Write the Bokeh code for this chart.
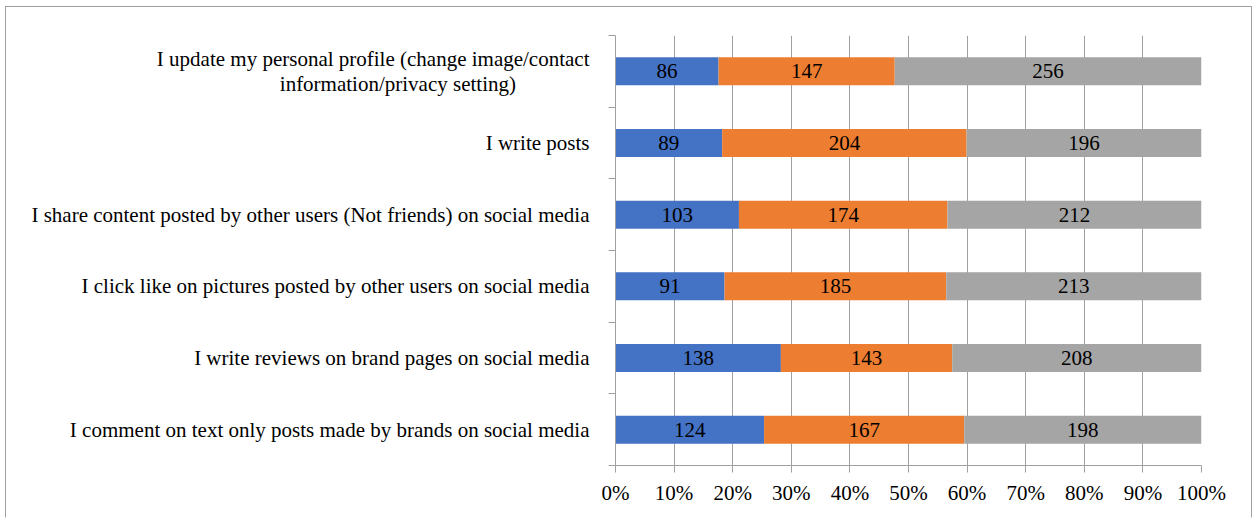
from bokeh.plotting import figure
from bokeh.models import ColumnDataSource, FixedTicker, NumeralTickFormatter, Range1d
from bokeh.core.properties import value
from bokeh.embed import file_html
from bokeh.resources import INLINE

# ---- data (top to bottom as displayed) ----
categories = [
    "I update my personal profile (change image/contact\ninformation/privacy setting)",
    "I write posts",
    "I share content posted by other users (Not friends) on social media",
    "I click like on pictures posted by other users on social media",
    "I write reviews on brand pages on social media",
    "I comment on text only posts made by brands on social media",
]
series1 = [86, 89, 103, 91, 138, 124]
series2 = [147, 204, 174, 185, 143, 167]
series3 = [256, 196, 212, 213, 208, 198]
x_tick_values = [0.0, 0.1, 0.2, 0.3, 0.4, 0.5, 0.6, 0.7, 0.8, 0.9, 1.0]

colors = ["#4472C4", "#ED7D31", "#A5A5A5"]
FONT = "Liberation Serif"
FS = "21px"

n = len(categories)
ys = [n - 1 - i + 0.5 for i in range(n)]

p = figure(width=1247, height=512, output_backend="svg", toolbar_location=None,
           x_range=Range1d(0, 1), y_range=Range1d(0, n),
           min_border_left=609, min_border_right=52, min_border_top=28, min_border_bottom=54)
p.styles = {"border-left": "1px solid #a0a0a0", "border-top": "1px solid #a0a0a0",
            "border-right": "1px solid #a0a0a0", "border-bottom": "1px solid white",
            "margin-left": "5px", "margin-top": "6px"}
p.outline_line_color = None
p.background_fill_color = "white"
p.border_fill_color = "white"

totals = [a + b + c for a, b, c in zip(series1, series2, series3)]
left = [0.0] * n
for s, col in zip([series1, series2, series3], colors):
    fr = [v / t for v, t in zip(s, totals)]
    right = [l + f for l, f in zip(left, fr)]
    src = ColumnDataSource(dict(y=ys, left=left, right=right,
                                mid=[(l + r) / 2 for l, r in zip(left, right)],
                                lab=[str(v) for v in s]))
    p.hbar(y="y", left="left", right="right", height=0.39, source=src,
           fill_color=col, line_color=None)
    p.text(x="mid", y="y", text="lab", source=src, text_align="center",
           text_baseline="middle", text_font=value(FONT), text_font_size=FS,
           text_color="black")
    left = right

# x axis
p.xaxis.ticker = FixedTicker(ticks=x_tick_values)
p.xaxis.formatter = NumeralTickFormatter(format="0%")
p.xaxis.axis_line_color = "#a0a0a0"
p.xaxis.major_tick_line_color = "#a0a0a0"
p.xaxis.major_tick_out = 7
p.xaxis.major_tick_in = 0
p.xaxis.minor_tick_line_color = None
p.xaxis.major_label_standoff = 8
p.xaxis.major_label_text_font = FONT
p.xaxis.major_label_text_font_size = FS
p.xaxis.major_label_text_color = "black"

# y axis: second line of the wrapped label padded so the two lines look centred
def centred(label):
    if "\n" not in label:
        return label
    a, b = label.split("\n")
    return a + "\n" + b + "\u00a0" * 14

p.yaxis.ticker = FixedTicker(ticks=ys, minor_ticks=list(range(n + 1)))
p.yaxis.major_label_overrides = {y: centred(c) for y, c in zip(ys, categories)}
p.yaxis.axis_line_color = "#a0a0a0"
p.yaxis.major_tick_line_color = None
p.yaxis.major_tick_out = 0
p.yaxis.major_tick_in = 0
p.yaxis.minor_tick_line_color = "#a0a0a0"
p.yaxis.minor_tick_out = 7
p.yaxis.minor_tick_in = 0
p.yaxis.major_label_standoff = 19
p.yaxis.major_label_text_font = FONT
p.yaxis.major_label_text_font_size = FS
p.yaxis.major_label_text_color = "black"
p.yaxis.major_label_text_line_height = 1.05

p.xgrid.ticker = FixedTicker(ticks=x_tick_values)
p.xgrid.grid_line_color = "#a0a0a0"
p.ygrid.grid_line_color = None

open("out.html", "w").write(file_html(p, INLINE))
